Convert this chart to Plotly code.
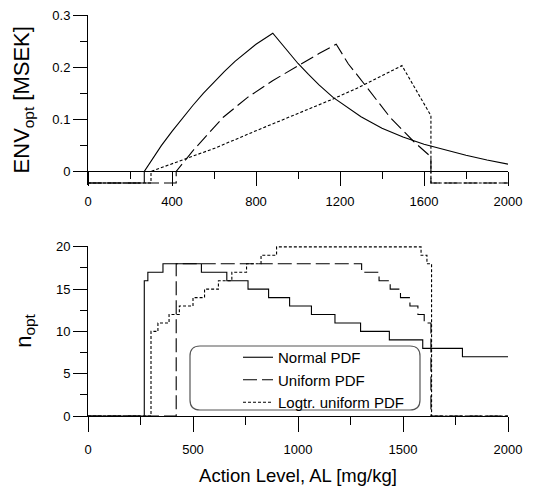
import plotly.graph_objects as go

# ---------------- data: upper panel, ENV_opt [MSEK] vs AL ----------------
normal_env_x = [0, 268, 268, 300, 350, 400, 450, 500, 550, 600, 650, 700, 750, 800, 880,
                950, 1000, 1050, 1100, 1167, 1240, 1300, 1400, 1500, 1600, 1700, 1800,
                1900, 2000]
normal_env_y = [-0.022, -0.022, 0.0, 0.020, 0.050, 0.077, 0.103, 0.127, 0.150, 0.172,
                0.192, 0.211, 0.228, 0.244, 0.265, 0.232, 0.207, 0.186, 0.166, 0.142,
                0.121, 0.105, 0.083, 0.066, 0.052, 0.041, 0.031, 0.022, 0.014]

uniform_env_x = [0, 420, 420, 500, 644, 760, 879, 1000, 1100, 1182, 1240, 1288, 1331,
                 1438, 1552, 1633, 1633, 2000]
uniform_env_y = [-0.022, -0.022, 0.0, 0.040, 0.104, 0.142, 0.174, 0.203, 0.226, 0.244,
                 0.206, 0.182, 0.160, 0.104, 0.057, 0.028, -0.022, -0.022]

logtr_env_x = [0, 300, 300, 606, 800, 1000, 1167, 1288, 1495, 1633, 1633, 2000]
logtr_env_y = [-0.022, -0.022, 0.0, 0.045, 0.078, 0.111, 0.139, 0.161, 0.203, 0.107,
               -0.022, -0.022]

# ---------------- data: lower panel, n_opt vs AL (step functions) ----------------
normal_n_x = [0, 268, 285, 357, 540, 661, 762, 860, 960, 1064, 1176, 1298, 1435,
              1594, 1783, 2000]
normal_n_y = [0, 16, 17, 18, 17, 16, 15, 14, 13, 12, 11, 10, 9, 8, 7, 7]

uniform_n_x = [0, 420, 1303, 1386, 1439, 1488, 1533, 1571, 1601, 1633, 2000]
uniform_n_y = [0, 18, 17, 16, 15, 14, 13, 12, 11, 0, 0]

logtr_n_x = [0, 300, 333, 386, 435, 500, 555, 621, 685, 755, 824, 898, 1586, 1614,
             1636, 2000]
logtr_n_y = [0, 10, 11, 12, 13, 14, 15, 16, 17, 18, 19, 20, 19, 18, 0, 0]

series_names = ["Normal PDF", "Uniform PDF", "Logtr. uniform PDF"]

# ---------------- styling ----------------
FONT = "Liberation Sans, Arial, sans-serif"
DASHES = ["solid", "14px,5px", "3px,2px"]
LW = 1.1

W, H = 542, 486
ML, MR, MT, MB = 88, 34, 15, 70
PW, PH = W - ML - MR, H - MT - MB


def fy(py):
    return (H - MB - py) / PH


def fx(px):
    return (px - ML) / PW


top_dom = [fy(184.5), 1.0]
bot_dom = [0.0, fy(246)]
y1_range = [-0.025, 0.3]
x1_pos = top_dom[0] + (0 - y1_range[0]) / (y1_range[1] - y1_range[0]) * (top_dom[1] - top_dom[0])

fig = go.Figure()

top_sets = [(normal_env_x, normal_env_y), (uniform_env_x, uniform_env_y), (logtr_env_x, logtr_env_y)]
for (xs, ys), dash, name in zip(top_sets, DASHES, series_names):
    fig.add_trace(go.Scatter(x=xs, y=ys, mode="lines", name=name, showlegend=False,
                             line=dict(color="black", width=LW, dash=dash),
                             xaxis="x", yaxis="y"))

bot_sets = [(normal_n_x, normal_n_y), (uniform_n_x, uniform_n_y), (logtr_n_x, logtr_n_y)]
for (xs, ys), dash, name in zip(bot_sets, DASHES, series_names):
    fig.add_trace(go.Scatter(x=xs, y=ys, mode="lines", name=name,
                             line=dict(color="black", width=LW, dash=dash, shape="hv"),
                             xaxis="x2", yaxis="y2"))

axis_common = dict(showline=True, linecolor="black", linewidth=1, ticks="outside",
                   tickcolor="black", tickwidth=1, showgrid=False, zeroline=False,
                   automargin=False,
                   tickfont=dict(family=FONT, size=13, color="black"))

fig.update_layout(
    template="none",
    width=W, height=H,
    margin=dict(l=ML, r=MR, t=MT, b=MB, autoexpand=False),
    paper_bgcolor="white", plot_bgcolor="white",
    font=dict(family=FONT, color="black"),
    xaxis=dict(axis_common, domain=[0, 1], range=[0, 2000], anchor="free", position=x1_pos,
               tick0=0, dtick=400, ticklen=14, ticklabelstandoff=4,
               minor=dict(dtick=200, ticklen=7, ticks="outside", tickcolor="black", tickwidth=1)),
    yaxis=dict(axis_common, domain=top_dom, range=y1_range, anchor="x",
               tick0=0, dtick=0.1, ticklen=14,
               minor=dict(dtick=0.05, ticklen=7, ticks="outside", tickcolor="black", tickwidth=1),
               title=dict(text="ENV<sub>opt</sub> [MSEK]", font=dict(family=FONT, size=22),
                          standoff=16)),
    xaxis2=dict(axis_common, domain=[0, 1], range=[0, 2000], anchor="y2",
                tick0=0, dtick=500, ticklen=15, ticklabelstandoff=6,
                minor=dict(dtick=250, ticklen=8, ticks="outside", tickcolor="black", tickwidth=1),
                title=dict(text="Action Level, AL [mg/kg]", font=dict(family=FONT, size=18.5),
                           standoff=15)),
    yaxis2=dict(axis_common, domain=bot_dom, range=[0, 20.1], anchor="x2",
                tick0=0, dtick=5, ticklen=14,
                minor=dict(dtick=2.5, ticklen=7, ticks="outside", tickcolor="black", tickwidth=1),
                title=dict(text="n<sub>opt</sub>", font=dict(family=FONT, size=22),
                           standoff=18)),
    legend=dict(x=fx(238), y=fy(341), xanchor="left", yanchor="top",
                bgcolor="rgba(0,0,0,0)", borderwidth=0, tracegroupgap=0,
                font=dict(family=FONT, size=15, color="black")),
)

# rounded legend frame
x0, x1 = fx(190), fx(420)
y0, y1 = fy(410), fy(346)
rx, ry = 10 / PW, 10 / PH
path = (f"M {x0+rx},{y1} L {x1-rx},{y1} Q {x1},{y1} {x1},{y1-ry} "
        f"L {x1},{y0+ry} Q {x1},{y0} {x1-rx},{y0} L {x0+rx},{y0} "
        f"Q {x0},{y0} {x0},{y0+ry} L {x0},{y1-ry} Q {x0},{y1} {x0+rx},{y1} Z")
fig.add_shape(type="path", path=path, xref="paper", yref="paper",
              line=dict(color="#555555", width=1.2), fillcolor="rgba(0,0,0,0)", layer="above")

fig.write_html("out.html", config={"displayModeBar": False},
               post_script="document.body.style.margin='0px';")
